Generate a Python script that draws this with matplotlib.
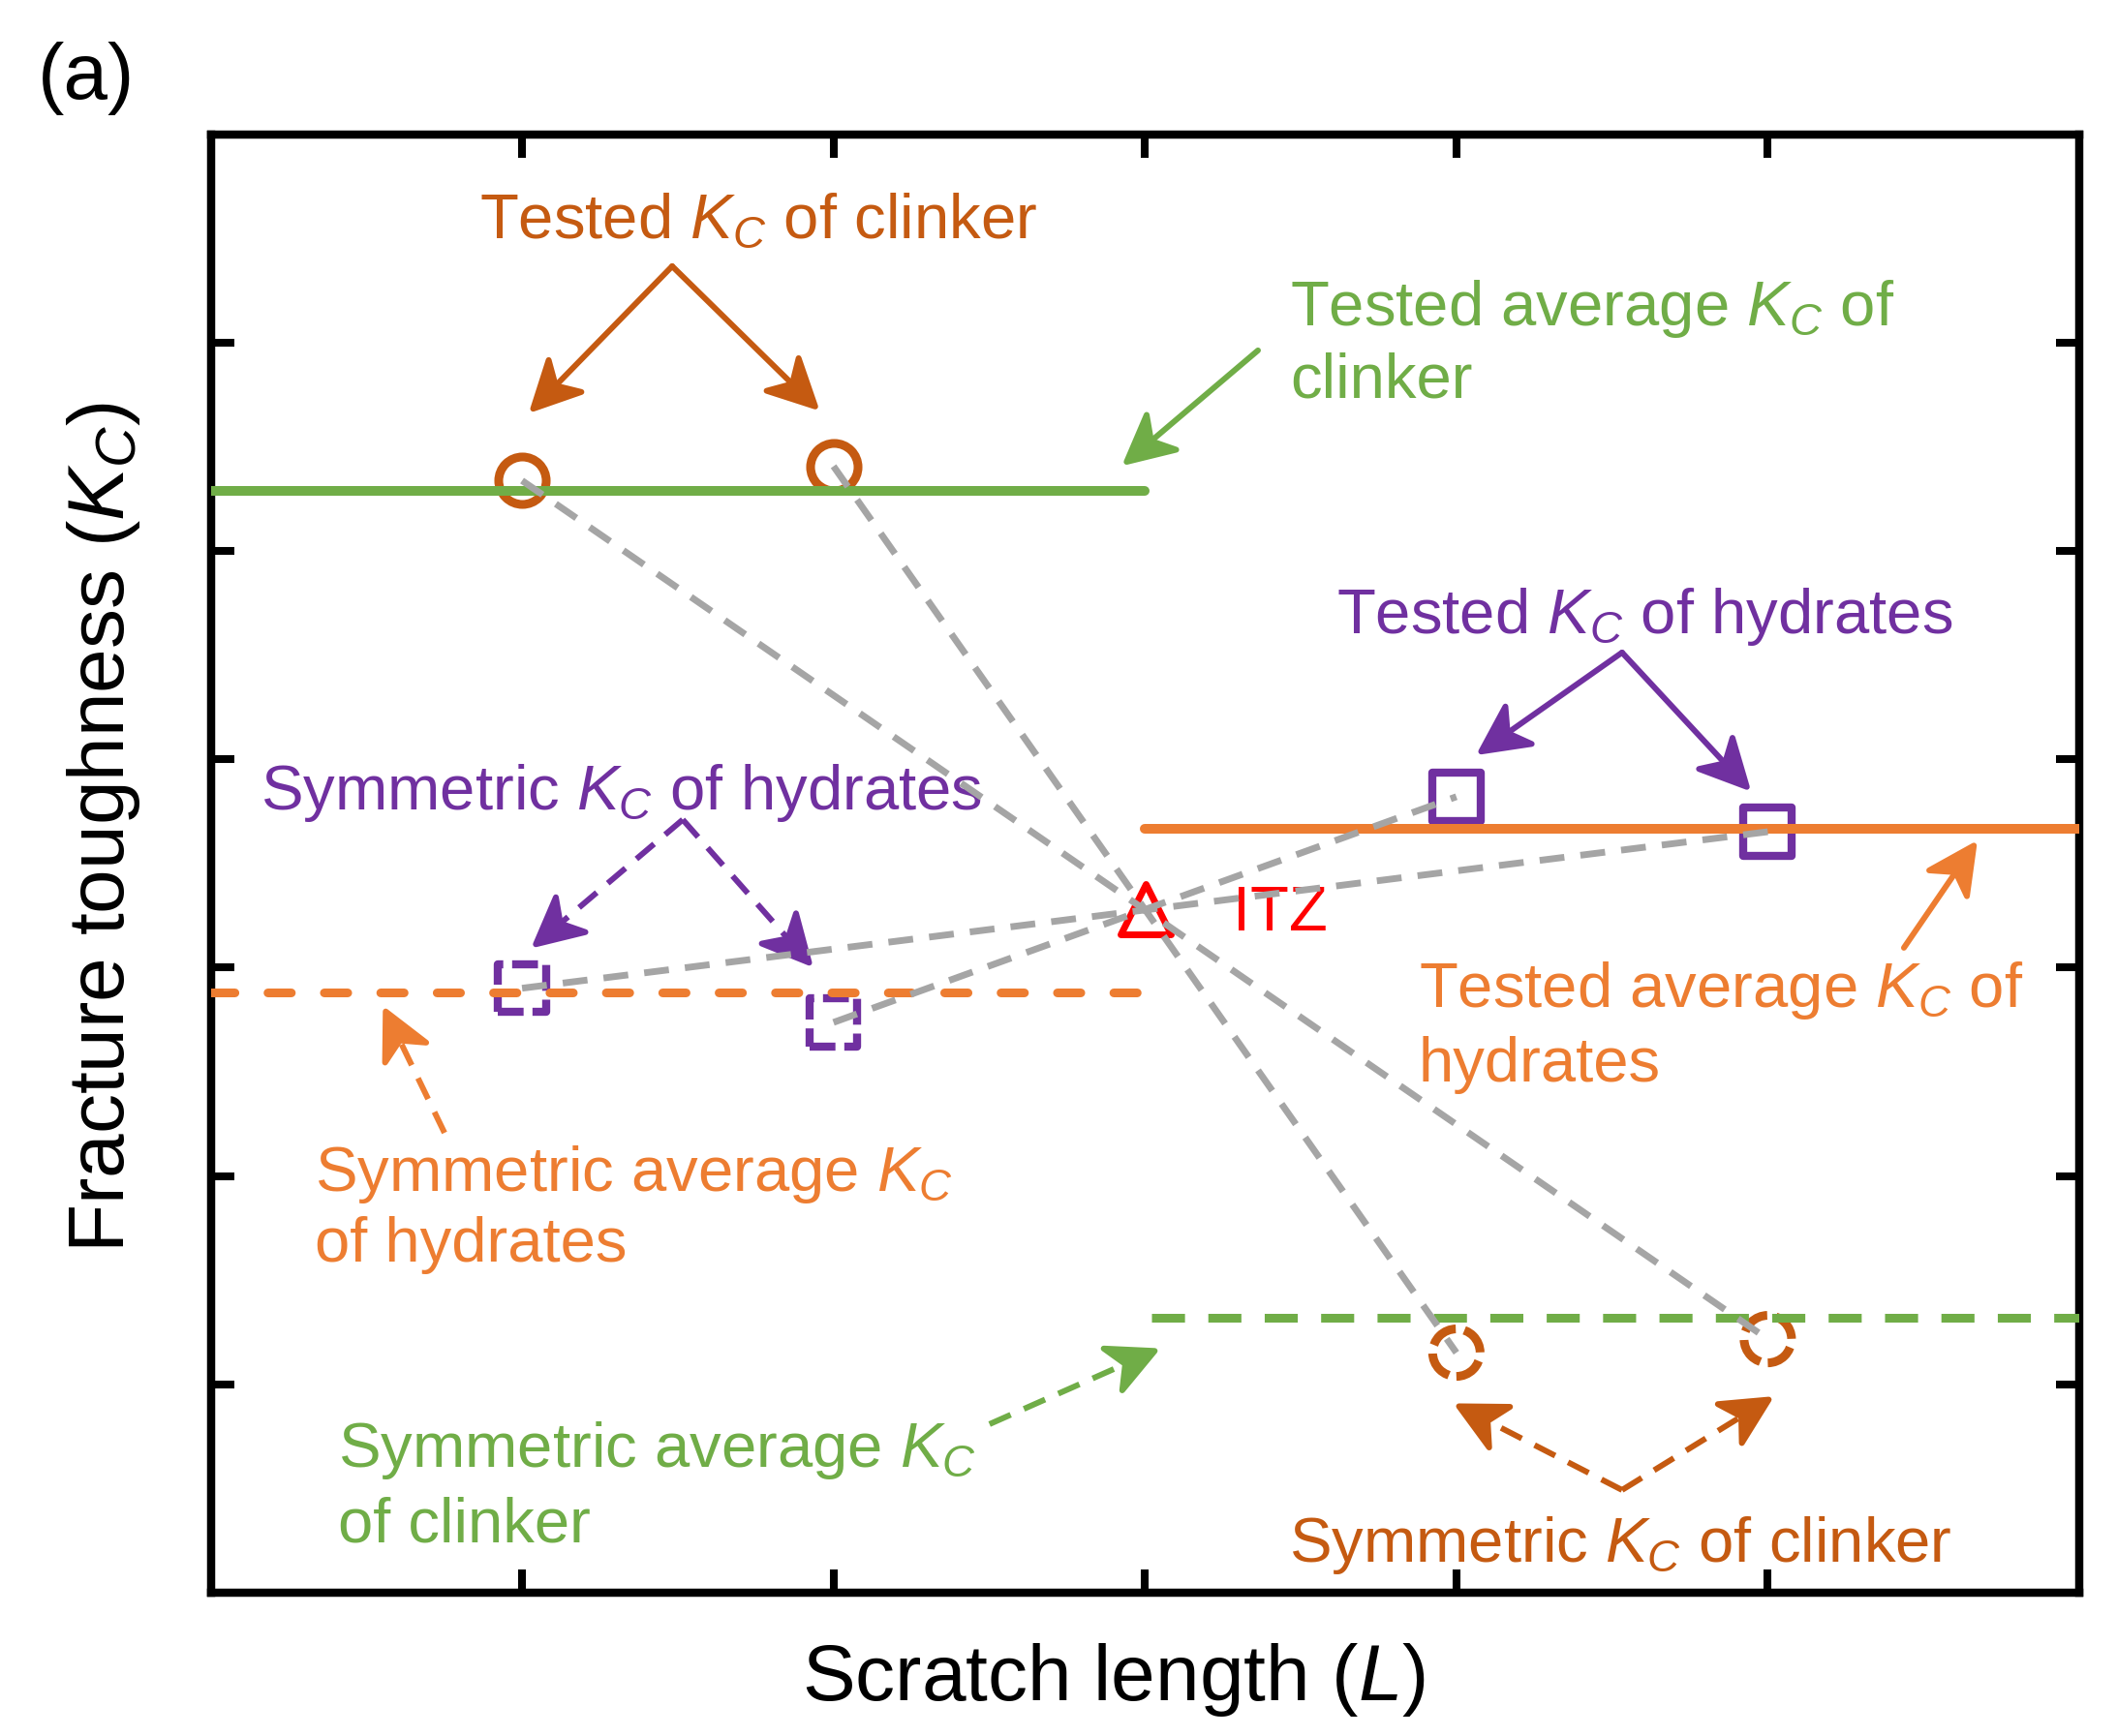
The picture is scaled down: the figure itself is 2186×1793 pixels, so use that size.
import matplotlib
matplotlib.use("Agg")
import numpy as np
import matplotlib.pyplot as plt
from matplotlib.markers import MarkerStyle
from matplotlib.patches import ArrowStyle
from matplotlib.path import Path

plt.rcParams['font.family'] = ['Liberation Sans', 'DejaVu Sans']
plt.rcParams['mathtext.fontset'] = 'custom'
plt.rcParams['mathtext.rm'] = 'Liberation Sans'
plt.rcParams['mathtext.it'] = 'Liberation Sans:italic'
plt.rcParams['mathtext.default'] = 'it'

# ---------------- data ----------------
tested_clinker_x = [1, 2]
tested_clinker_y = [5.337, 5.406]
sym_clinker_x = [4, 5]
sym_clinker_y = [1.152, 1.217]
tested_hyd_x = [4, 5]
tested_hyd_y = [3.820, 3.652]
sym_hyd_x = [1, 2]
sym_hyd_y = [2.901, 2.737]
itz_x = [3.003]
itz_y = [3.279]

avg_clinker_tested_x = [0, 3.0]
avg_clinker_tested_y = [5.288, 5.288]
avg_clinker_sym_x = [3.02, 6]
avg_clinker_sym_y = [1.320, 1.320]
avg_hyd_tested_x = [3.0, 6]
avg_hyd_tested_y = [3.666, 3.666]
avg_hyd_sym_x = [0, 3.0]
avg_hyd_sym_y = [2.881, 2.881]

xticks = [1, 2, 3, 4, 5]
yticks = [1, 2, 3, 4, 5, 6]

# colours
C_BROWN = '#C55A11'
C_GREEN = '#70AD47'
C_ORANGE = '#ED7D31'
C_PURPLE = '#7030A0'
C_GRAY = '#A5A5A5'
C_RED = '#FF0000'


class Stealth(ArrowStyle._Base):
    """Filled, notched arrow head (Office 'stealth'-like)."""

    def __init__(self, head_length=34.0, head_width=17.0, notch_length=24.0,
                 part='both'):
        self.head_length = head_length
        self.head_width = head_width
        self.notch_length = notch_length
        self.part = part
        super().__init__()

    def transmute(self, path, mutation_size, linewidth):
        v = path.vertices
        x0, y0 = v[0]
        x1, y1 = v[-1]
        d = np.hypot(x1 - x0, y1 - y0)
        ux, uy = (x1 - x0) / d, (y1 - y0) / d
        px, py = -uy, ux
        s = mutation_size
        hl, hw, nl = self.head_length * s, self.head_width * s, self.notch_length * s
        pad = 0.5 * linewidth
        tx, ty = x1 - ux * pad, y1 - uy * pad
        bx, by = tx - ux * hl, ty - uy * hl
        nx, ny = tx - ux * nl, ty - uy * nl
        shaft = Path([[x0, y0], [nx, ny]], [Path.MOVETO, Path.LINETO])
        head = Path([[tx, ty], [bx + px * hw, by + py * hw], [nx, ny],
                     [bx - px * hw, by - py * hw], [tx, ty]],
                    [Path.MOVETO, Path.LINETO, Path.LINETO, Path.LINETO, Path.CLOSEPOLY])
        if self.part == 'shaft':
            return shaft, False
        if self.part == 'head':
            return head, True
        return [shaft, head], [False, True]


W, H = 2186, 1793
fig = plt.figure(figsize=(W / 100, H / 100), dpi=100)
L, R, T, B = 217.5, 2147, 138.5, 1645
ax = fig.add_axes([L / W, 1 - B / H, (R - L) / W, (B - T) / H])
ax.set_xlim(0, 6)
ax.set_ylim(0, 7)
ax.set_xticks(xticks)
ax.set_yticks(yticks)
ax.tick_params(direction='in', length=17, width=5.8, top=True, right=True,
               labelbottom=False, labelleft=False, color='black')
for s in ax.spines.values():
    s.set_linewidth(6.1)

# ---------------- markers ----------------
sq_round = MarkerStyle('s', joinstyle='round')
ax.plot(tested_clinker_x, tested_clinker_y, ls='none', marker='o', ms=35.3,
        mfc='none', mec=C_BROWN, mew=6.5, zorder=3)
ax.plot(tested_hyd_x, tested_hyd_y, ls='none', marker=sq_round, ms=35.6,
        mfc='none', mec=C_PURPLE, mew=6.0, zorder=3)
ax.scatter(sym_clinker_x, sym_clinker_y, s=35.3 ** 2, marker='o', facecolors='none',
           edgecolors=C_BROWN, linewidths=6.5, linestyles=[(0, (3.3, 1.0))], zorder=3)
ax.scatter(sym_hyd_x, sym_hyd_y, s=35.6 ** 2, marker='s', facecolors='none',
           edgecolors=C_PURPLE, linewidths=6.0, linestyles=[(0, (3.2, 1.1))], zorder=3)
ax.plot(itz_x, itz_y, ls='none', marker=MarkerStyle('^', joinstyle='round'), ms=38,
        mfc='none', mec=C_RED, mew=5.0, zorder=3)

# ---------------- average lines ----------------
ax.plot(avg_clinker_tested_x, avg_clinker_tested_y, color=C_GREEN, lw=7.2,
        solid_capstyle='round', zorder=4)
ax.plot(avg_hyd_tested_x, avg_hyd_tested_y, color=C_ORANGE, lw=7.2,
        solid_capstyle='round', zorder=4)
ax.plot(avg_hyd_sym_x, avg_hyd_sym_y, color=C_ORANGE, lw=6.5,
        ls=(0, (2.67, 3.78)), dash_capstyle='round', zorder=4)
ax.plot(avg_clinker_sym_x, avg_clinker_sym_y, color=C_GREEN, lw=6.5,
        ls=(0, (3.78, 2.67)), dash_capstyle='butt', zorder=4)

# ---------------- gray symmetry connectors ----------------
pairs = list(zip(tested_clinker_x, tested_clinker_y,
                 sym_clinker_x[::-1], sym_clinker_y[::-1]))
pairs += list(zip(sym_hyd_x, sym_hyd_y, tested_hyd_x[::-1], tested_hyd_y[::-1]))
for x0, y0, x1, y1 in pairs:
    ax.plot([x0, x1], [y0, y1], color=C_GRAY, lw=5.0, ls=(0, (3.7, 2.4)),
            dash_capstyle='butt', zorder=10)


# ---------------- arrows ----------------
def arrow(start, tip, color, dashed=False):
    if not dashed:
        props = dict(arrowstyle=Stealth(34, 17, 24), color=color, lw=4.3,
                     shrinkA=0, shrinkB=0, mutation_scale=1,
                     capstyle='round', joinstyle='round')
        ax.annotate('', xy=tip, xytext=start, xycoords='data', textcoords='data',
                    arrowprops=props, zorder=6)
        return
    shaft = dict(arrowstyle=Stealth(34, 17, 24, part='shaft'), color=color, lw=4.3,
                 shrinkA=0, shrinkB=0, mutation_scale=1, capstyle='butt',
                 linestyle=(0, (4.0, 2.5)))
    head = dict(arrowstyle=Stealth(34, 17, 24, part='head'), color=color, lw=4.3,
                shrinkA=0, shrinkB=0, mutation_scale=1, joinstyle='round')
    for props in (shaft, head):
        ax.annotate('', xy=tip, xytext=start, xycoords='data', textcoords='data',
                    arrowprops=props, zorder=6)


# tested Kc of clinker
arrow((1.482, 6.366), (1.029, 5.672), C_BROWN)
arrow((1.482, 6.366), (1.948, 5.683), C_BROWN)
# tested average clinker
arrow((3.363, 5.962), (2.934, 5.418), C_GREEN)
# tested Kc of hydrates
arrow((4.532, 4.512), (4.072, 4.029), C_PURPLE)
arrow((4.532, 4.512), (4.939, 3.857), C_PURPLE)
# tested average hydrates
arrow((5.437, 3.095), (5.667, 3.597), C_ORANGE)
# symmetric Kc of hydrates
arrow((1.516, 3.710), (1.037, 3.103), C_PURPLE, dashed=True)
arrow((1.516, 3.710), (1.928, 3.013), C_PURPLE, dashed=True)
# symmetric average hydrates
arrow((0.751, 2.207), (0.558, 2.802), C_ORANGE, dashed=True)
# symmetric average clinker
arrow((2.501, 0.809), (3.040, 1.166), C_GREEN, dashed=True)
# symmetric Kc of clinker
arrow((4.532, 0.493), (4.000, 0.901), C_BROWN, dashed=True)
arrow((4.532, 0.493), (5.011, 0.934), C_BROWN, dashed=True)

# ---------------- annotation texts ----------------
FS = 47
labels = [
    ("Tested $K_C$ of clinker", 0.863, 6.501, C_BROWN),
    ("Tested average $K_C$ of", 3.465, 6.083, C_GREEN),
    ("clinker", 3.465, 5.734, C_GREEN),
    ("Tested $K_C$ of hydrates", 3.615, 4.605, C_PURPLE),
    ("Symmetric $K_C$ of hydrates", 0.160, 3.759, C_PURPLE),
    ("ITZ", 3.282, 3.178, C_RED),
    ("Tested average $K_C$ of", 3.879, 2.811, C_ORANGE),
    ("hydrates", 3.879, 2.454, C_ORANGE),
    ("Symmetric average $K_C$", 0.334, 1.928, C_ORANGE),
    ("of hydrates", 0.334, 1.589, C_ORANGE),
    ("Symmetric average $K_C$", 0.409, 0.604, C_GREEN),
    ("of clinker", 0.409, 0.246, C_GREEN),
    ("Symmetric $K_C$ of clinker", 3.462, 0.149, C_BROWN),
]
for txt, x, y, c in labels:
    ax.text(x, y, txt, color=c, fontsize=FS, ha='left', va='baseline', zorder=7)

# ---------------- axis labels ----------------
fig.text(1150 / W, 1 - 1756 / H, "Scratch length ($L$)", fontsize=59,
         ha='center', va='baseline')
fig.text(128 / W, 1 - 854 / H, "Fracture toughness ($K_C$)", fontsize=59,
         ha='center', va='baseline', rotation=90, rotation_mode='anchor')
fig.text(39 / W, 1 - 102 / H, "(a)", fontsize=59, ha='left', va='baseline')

fig.savefig("out.png", dpi=100, facecolor='white')
